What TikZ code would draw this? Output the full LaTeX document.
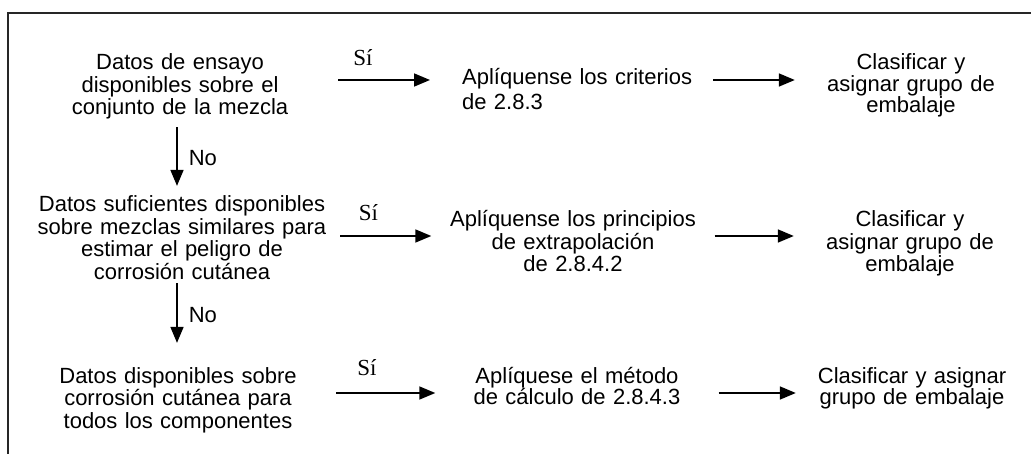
\documentclass[tikz,border=0pt]{standalone}
\usepackage{fontspec}
\setmainfont{Liberation Sans}
\newfontfamily\timesfont{Liberation Serif}
\usetikzlibrary{arrows.meta}

\begin{document}
\begin{tikzpicture}[x=1pt,y=-1pt,
    flow/.style={-{Triangle[length=16pt,width=13pt]},line width=1.7pt},
    block/.style={inner sep=0pt,align=center,anchor=base,font=\fontsize{22}{22.5}\selectfont},
    yes/.style={inner sep=0pt,font=\timesfont\fontsize{23}{23}\selectfont},
    no/.style={inner sep=0pt,font=\fontsize{22}{22}\selectfont}]

  \useasboundingbox (0,0) rectangle (1031,454);
  \draw[line width=1.5pt,black!85] (1031,13) -- (8,13) -- (8,454);

  \coordinate (col) at (177,0);
  \coordinate (r1) at (0,80);
  \coordinate (r2) at (0,236);
  \coordinate (r3) at (0,393);

  % left column: questions
  \node[block, text width=316pt] (a1) at (180,70) {Datos de ensayo\\ disponibles sobre el\\ conjunto de la mezcla};
  \node[block, text width=316pt] (a2) at (182,212) {Datos suficientes disponibles\\ sobre mezclas similares para\\ estimar el peligro de\\ corrosión cutánea};
  \node[block, text width=316pt] (a3) at (178,383) {Datos disponibles sobre\\ corrosión cutánea para\\ todos los componentes};

  % middle column
  \node[block, text width=251pt, align=left, anchor=base west, font=\fontsize{22}{25}\selectfont] (b1) at (462,85) {Aplíquense los criterios\\ de 2.8.3};
  \node[block, text width=283pt] (b2) at (573,227) {Aplíquense los principios\\ de extrapolación\\ de 2.8.4.2};
  \node[block, text width=283pt, font=\fontsize{22}{20}\selectfont] (b3) at (577,383) {Aplíquese el método\\ de cálculo de 2.8.4.3};

  % right column
  \node[block, text width=232pt, font=\fontsize{22}{21.5}\selectfont] (c1) at (911,70) {Clasificar y\\ asignar grupo de\\ embalaje};
  \node[block, text width=232pt] (c2) at (910,227) {Clasificar y\\ asignar grupo de\\ embalaje};
  \node[block, text width=232pt, font=\fontsize{22}{21}\selectfont] (c3) at (912,383) {Clasificar y asignar\\ grupo de embalaje};

  \draw[flow, shorten >=32pt] (a1.east |- r1) -- node[yes, pos=0.2, above=13pt] {Sí} (b1.west |- r1);
  \draw[flow] (a2.east |- r2) -- node[yes, pos=0.31, above=14pt] {Sí} (b2.west |- r2);
  \draw[flow] (a3.east |- r3) -- node[yes, pos=0.31, above=16pt] {Sí} (b3.west |- r3);

  \draw[flow] (b1.east |- r1) -- (c1.west |- r1);
  \draw[flow] (b2.east |- r2) -- (c2.west |- r2);
  \draw[flow] (b3.east |- r3) -- (c3.west |- r3);

  \draw[flow, shorten <=7.5pt, shorten >=10pt] (a1.south -| col) -- node[no, midway, right=11pt] {No} (a2.north -| col);
  \draw[flow, shorten <=3.5pt, shorten >=24pt] (a2.south -| col) -- node[no, pos=0.4, right=11pt] {No} (a3.north -| col);
\end{tikzpicture}
\end{document}
